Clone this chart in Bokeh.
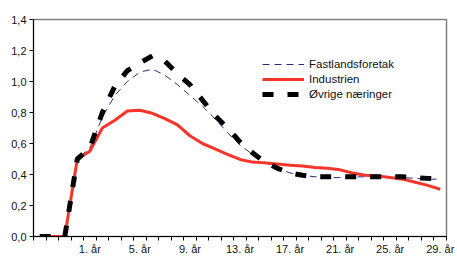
from bokeh.plotting import figure
from bokeh.models import FixedTicker, CustomJSTickFormatter, Legend, LegendItem, Range1d, ColumnDataSource
from bokeh.embed import file_html
from bokeh.resources import INLINE

categories = ["-3. år", "-2. år", "-1. år", "0. år"] + [f"{i}. år" for i in range(1, 30)]
shown_labels = ["1. år", "5. år", "9. år", "13. år", "17. år", "21. år", "25. år", "29. år"]

fastlandsforetak = [0.0, 0.0, 0.0, 0.50, 0.57, 0.77, 0.91, 1.00, 1.06, 1.08, 1.04, 0.98,
                    0.91, 0.84, 0.76, 0.67, 0.59, 0.53, 0.48, 0.44, 0.41, 0.395, 0.385,
                    0.38, 0.38, 0.385, 0.385, 0.385, 0.38, 0.38, 0.375, 0.37, 0.37]
industrien = [0.0, 0.0, 0.0, 0.50, 0.55, 0.70, 0.75, 0.81, 0.815, 0.795, 0.76, 0.72,
              0.65, 0.60, 0.565, 0.53, 0.497, 0.48, 0.475, 0.468, 0.46, 0.455, 0.445,
              0.44, 0.43, 0.41, 0.395, 0.39, 0.38, 0.37, 0.35, 0.33, 0.305]
ovrige = [0.0, 0.0, 0.0, 0.50, 0.57, 0.80, 0.97, 1.07, 1.12, 1.165, 1.13, 1.05,
          0.98, 0.88, 0.78, 0.70, 0.61, 0.54, 0.48, 0.44, 0.41, 0.395, 0.385,
          0.385, 0.385, 0.385, 0.385, 0.385, 0.385, 0.385, 0.38, 0.375, 0.37]
y_ticks = [0.0, 0.2, 0.4, 0.6, 0.8, 1.0, 1.2, 1.4]

xs = [i + 0.5 for i in range(len(categories))]
src = ColumnDataSource(dict(x=xs, f=fastlandsforetak, i=industrien, o=ovrige))

FONT = "Liberation Sans"

p = figure(width=457, height=257, output_backend="svg", toolbar_location=None,
           x_range=Range1d(0, len(categories)), y_range=Range1d(0, 1.4),
           min_border_left=33, min_border_right=11, min_border_top=19, min_border_bottom=21)
p.grid.visible = False
p.outline_line_color = "#808080"
p.outline_line_width = 1.5
p.background_fill_color = "white"

r_f = p.line("x", "f", source=src, line_color="#2B2B80", line_width=1, line_dash="7 5")
r_i = p.line("x", "i", source=src, line_color="#F5352A", line_width=3)
r_o = p.line("x", "o", source=src, line_color="black", line_width=5, line_dash="11 14")

# x axis
label_pos = {xs[categories.index(l)]: l for l in shown_labels}
p.xaxis.ticker = FixedTicker(ticks=list(label_pos.keys()), minor_ticks=list(range(len(categories) + 1)))
p.xaxis.major_label_overrides = label_pos
p.xaxis.major_tick_out = 0
p.xaxis.major_tick_in = 0
p.xaxis.minor_tick_out = 4
p.xaxis.minor_tick_in = 0
p.xaxis.minor_tick_line_color = "black"
p.xaxis.axis_line_color = "black"
p.xaxis.major_label_standoff = 2
p.xaxis.major_label_text_font = FONT
p.xaxis.major_label_text_font_size = "11px"
p.xaxis.major_label_text_color = "#111111"

# y axis
p.yaxis.ticker = FixedTicker(ticks=y_ticks, minor_ticks=[])
p.yaxis.formatter = CustomJSTickFormatter(code="return tick.toFixed(1).replace('.', ',');")
p.yaxis.major_tick_out = 4
p.yaxis.major_tick_in = 0
p.yaxis.major_tick_line_color = "black"
p.yaxis.axis_line_color = "black"
p.yaxis.major_label_standoff = 3
p.yaxis.major_label_text_font = FONT
p.yaxis.major_label_text_font_size = "11px"
p.yaxis.major_label_text_color = "#111111"

legend = Legend(items=[LegendItem(label="Fastlandsforetak", renderers=[r_f]),
                       LegendItem(label="Industrien", renderers=[r_i]),
                       LegendItem(label="Øvrige næringer", renderers=[r_o])],
                location=(229, 135))
legend.glyph_width = 42
legend.glyph_height = 14
legend.label_height = 14
legend.label_standoff = 5
legend.padding = 0
legend.spacing = 1
legend.margin = 0
legend.border_line_alpha = 0
legend.background_fill_alpha = 0
legend.label_text_font = FONT
legend.label_text_font_size = "11.5px"
legend.label_text_color = "#111111"
p.add_layout(legend)

open("out.html", "w").write(file_html(p, INLINE))
